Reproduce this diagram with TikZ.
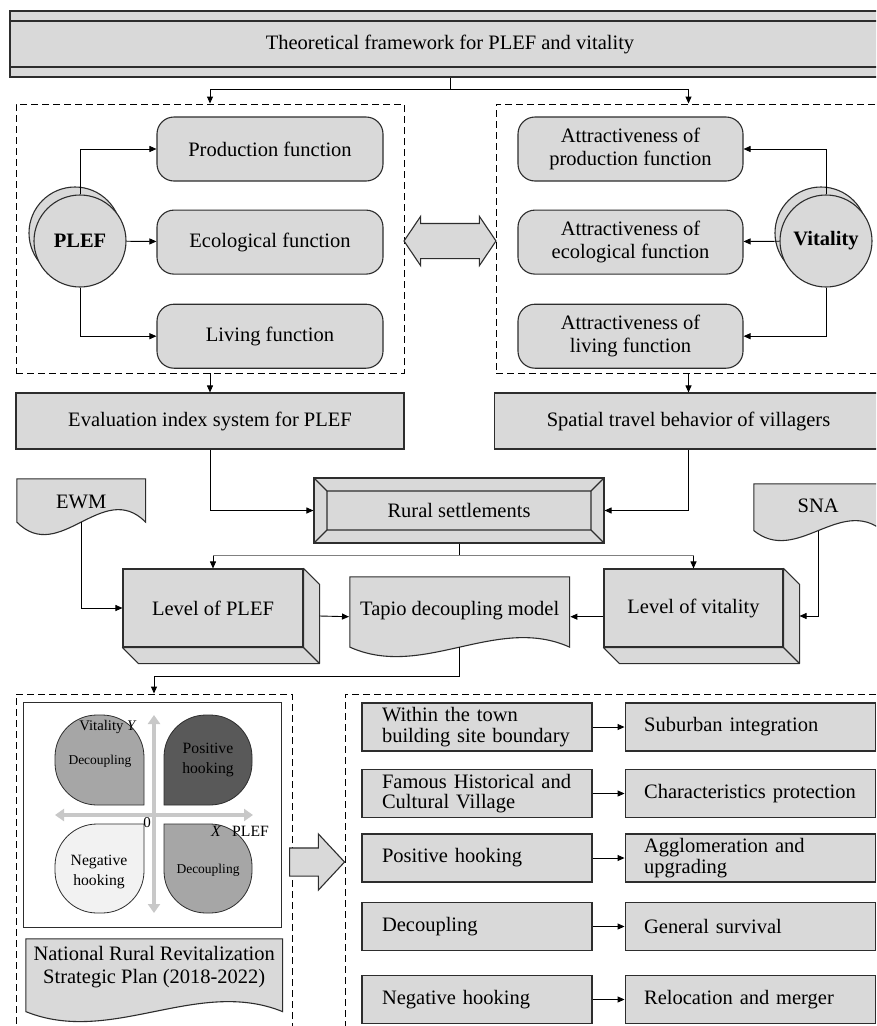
\documentclass[tikz,border=0pt]{standalone}
\usepackage{fontspec}
\setmainfont{Liberation Serif}
\usepackage{tikz}
\usetikzlibrary{positioning, arrows.meta, shapes.arrows, shadows, calc}
\definecolor{boxgray}{RGB}{217,217,217}
\definecolor{edgegray}{RGB}{45,45,45}
\definecolor{quadmid}{RGB}{166,166,166}
\definecolor{quaddark}{RGB}{89,89,89}
\definecolor{quadlight}{RGB}{242,242,242}
\definecolor{axisgray}{RGB}{200,200,200}
\tikzset{docwave/.store in=\docwave, docwave=10pt}

\begin{document}
\begin{tikzpicture}[
    x=1pt, y=-1pt,
    every node/.style={font=\fontsize{20.5}{23}\selectfont},
    graybox/.style={
        rectangle,
        draw=edgegray,
        line width=1.1pt,
        fill=boxgray,
        align=center,
        inner sep=0pt
    },
    titlebox/.style={
        graybox,
        minimum width=880pt,
        minimum height=66pt,
        path picture={
            \draw[edgegray, line width=1.1pt]
                ([yshift=-10pt]path picture bounding box.north west) -- ([yshift=-10pt]path picture bounding box.north east)
                ([yshift=10pt]path picture bounding box.south west) -- ([yshift=10pt]path picture bounding box.south east);
        }
    },
    funcbox/.style={
        graybox,
        rounded corners=17pt,
        minimum width=226pt,
        minimum height=64pt
    },
    plainbox/.style={
        graybox,
        minimum width=388pt,
        minimum height=56pt
    },
    bevelbox/.style={
        graybox,
        minimum width=290pt,
        minimum height=65pt,
        path picture={
            \draw[edgegray, line width=1.1pt]
                ([shift={(13pt,-13pt)}]path picture bounding box.north west) rectangle ([shift={(-13pt,13pt)}]path picture bounding box.south east)
                (path picture bounding box.north west) -- ++(13pt,-13pt)
                (path picture bounding box.north east) -- ++(-13pt,-13pt)
                (path picture bounding box.south east) -- ++(-13pt,13pt)
                (path picture bounding box.south west) -- ++(13pt,13pt);
        }
    },
    cuboid/.style={
        graybox,
        minimum width=180pt,
        minimum height=78pt,
        append after command={
            \pgfextra{
                \draw[draw=edgegray, fill=boxgray, line width=1.1pt, line join=round]
                    (\tikzlastnode.north east) -- ++(16pt,-16pt)
                    -- ([shift={(16pt,-16pt)}]\tikzlastnode.south east)
                    -- ([shift={(16pt,-16pt)}]\tikzlastnode.south west)
                    -- (\tikzlastnode.south west) -- (\tikzlastnode.south east) -- cycle;
                \draw[edgegray, line width=1.1pt] (\tikzlastnode.south east) -- ++(16pt,-16pt);
            }
        }
    },
    docbox/.style={
        rectangle,
        fill=white,
        inner sep=0pt,
        anchor=north west,
        align=center,
        path picture={
            \path[draw=edgegray, fill=boxgray, line width=1.1pt]
                let \p1=(path picture bounding box.south west),
                    \p2=(path picture bounding box.north east) in
                (\x1+.6pt,\y2-.6pt) -- (\x2-.6pt,\y2-.6pt) -- (\x2-.6pt,\y1+\docwave+.6pt)
                .. controls ({\x2-(\x2-\x1)/3},{\y1+4.46*\docwave+.6pt})
                       and ({\x1+(\x2-\x1)/3},{\y1-2.46*\docwave+.6pt}) ..
                (\x1+.6pt,\y1+\docwave+.6pt) -- cycle;
        }
    },
    hub/.style={
        circle,
        draw=edgegray,
        line width=1.1pt,
        fill=boxgray,
        minimum size=92pt,
        inner sep=0pt,
        font=\fontsize{20.5}{23}\selectfont\bfseries,
        copy shadow={shadow xshift=-5pt, shadow yshift=8pt, draw=edgegray, fill=boxgray, line width=1.1pt}
    },
    linkarrow/.style={
        double arrow,
        draw=edgegray,
        fill=boxgray,
        line width=1.1pt,
        minimum height=92pt,
        inner xsep=0pt,
        inner ysep=17pt,
        double arrow head extend=7pt,
        double arrow tip angle=112
    },
    bigarrow/.style={
        single arrow,
        draw=edgegray,
        fill=boxgray,
        line width=1.1pt,
        minimum height=55pt,
        inner xsep=0pt,
        inner ysep=13.5pt,
        single arrow head extend=14pt,
        single arrow tip angle=94
    },
    dashframe/.style={
        rectangle,
        draw=black,
        line width=0.9pt,
        dash pattern=on 7pt off 4pt,
        inner sep=0pt
    },
    rowbox/.style={
        graybox,
        align=left,
        font=\fontsize{20.5}{20.5}\selectfont,
        minimum height=48pt,
        text width=190pt,
        inner xsep=20pt
    },
    resultbox/.style={
        rowbox,
        text width=212pt,
        inner xsep=19pt
    },
    quadrant/.style={draw=edgegray, line width=0.8pt},
    quadtext/.style={font=\fontsize{15.7}{20.5}\selectfont, align=center},
    smalltext/.style={font=\fontsize{13.5}{15}\selectfont},
    axis/.style={{Triangle[length=9pt,width=12pt]}-{Triangle[length=9pt,width=12pt]}, line width=3.5pt, draw=axisgray},
    arrow/.style={-{Triangle[length=7pt,width=6pt]}, line width=0.9pt, draw=black}
]
\useasboundingbox (0,0) rectangle (876,1026);
\fill[white] (0,0) rectangle (876,1026);
\clip (0,0) rectangle (876,1026);

% dashed groups
\node[dashframe, minimum width=388pt, minimum height=269pt] (plefframe) at (210,238.5) {};
\node[dashframe, minimum width=385pt, minimum height=269pt] (vitframe) at (688.5,238.5) {};
\node[dashframe, minimum width=276pt, minimum height=346pt] (planframe) at (154,867) {};
\node[dashframe, minimum width=560pt, minimum height=346pt] (typeframe) at (625,867) {};

\node[titlebox] (theory) at (450,44) {Theoretical framework for PLEF and vitality};

% PLEF side
\node[funcbox] (prod) at (270,149) {Production function};
\node[funcbox, below=28pt of prod] (eco) {Ecological function};
\node[funcbox, below=29pt of eco] (living) {Living function};
\node[hub] (plef) at (80,241) {PLEF};

% vitality side
\node[funcbox, minimum width=225pt] (attprod) at (630.5,149) {Attractiveness of\\production function};
\node[funcbox, minimum width=225pt, below=28pt of attprod] (atteco) {Attractiveness of\\ecological function};
\node[funcbox, minimum width=225pt, below=29pt of atteco] (attliv) {Attractiveness of\\living function};
\node[hub] (vit) at (826,241) {Vitality};

\node[linkarrow] (link) at (450,241) {};

\node[plainbox] (evalsys) at (210,421) {Evaluation index system for PLEF};
\node[plainbox] (travel) at (688.5,421) {Spatial travel behavior of villagers};
\node[bevelbox] (rural) at (459,510.5) {Rural settlements};

\node[docbox, docwave=12.5pt, minimum width=130pt, text height=30pt, text depth=27pt] (ewm) at (16,478) {EWM};
\node[docbox, docwave=10pt, minimum width=130pt, text height=29pt, text depth=29pt] (sna) at (753,483) {SNA};

\node[cuboid] (plevel) at (213,608) {Level of PLEF};
\node[cuboid, minimum width=179pt] (vlevel) at (693.5,608) {Level of vitality};
\node[docbox, docwave=9.5pt, minimum width=221pt, text height=39pt, text depth=42pt] (tapio) at (349,576) {Tapio decoupling model};

% decoupling states
\node[rectangle, draw=edgegray, line width=1pt, minimum width=258pt, minimum height=225pt, inner sep=0pt] (quadbox) at (152,814.5) {};
\draw[quadrant, fill=quadmid] (144,805) -- (97,805) arc[start angle=270, end angle=180, radius=42pt]
    -- (55,757) arc[start angle=180, end angle=90, radius=42pt]
    -- (102,715) arc[start angle=90, end angle=0, radius=42pt] -- cycle;
\draw[quadrant, fill=quaddark] (164,805) -- (164,757) arc[start angle=180, end angle=90, radius=42pt]
    -- (210,715) arc[start angle=90, end angle=0, radius=42pt]
    -- (252,763) arc[start angle=0, end angle=-90, radius=42pt] -- cycle;
\draw[quadrant, fill=quadlight] (144,824) -- (144,871) arc[start angle=0, end angle=-90, radius=42pt]
    -- (97,913) arc[start angle=270, end angle=180, radius=42pt]
    -- (55,866) arc[start angle=180, end angle=90, radius=42pt] -- cycle;
\draw[quadrant, fill=quadmid] (164,824) -- (210,824) arc[start angle=90, end angle=0, radius=42pt]
    -- (252,871) arc[start angle=0, end angle=-90, radius=42pt]
    -- (206,913) arc[start angle=270, end angle=180, radius=42pt] -- cycle;
\draw[axis] (55,815) -- (253,815);
\draw[axis] (154,715) -- (154,913);
\node[smalltext] (tlq) at (100,761) {Decoupling};
\node[quadtext] (trq) at (208,760) {Positive\\hooking};
\node[quadtext] (blq) at (99,872) {Negative\\hooking};
\node[smalltext] (brq) at (208,870) {Decoupling};
\node[font=\fontsize{14.7}{16}\selectfont] (ylabel) at (108,727) {Vitality \textit{Y}};
\node[font=\fontsize{15}{16}\selectfont] (origin) at (147,823) {0};
\node[font=\fontsize{15.7}{17}\selectfont] (xlabel) at (240,831) {\textit{X}\hspace{11pt}PLEF};

\node[docbox, docwave=10pt, minimum width=258pt, text height=45pt, text depth=39pt] (natplan) at (25,938) {National Rural Revitalization\\Strategic Plan (2018-2022)};

\node[bigarrow] (toward) at (310.5,862) {};

% village types
\node[rowbox] (within) at (477,727) {Within the town\\building site boundary};
\node[rowbox] (famous) at (477,793.5) {Famous Historical and\\Cultural Village};
\node[rowbox] (poshook) at (477,858) {Positive hooking};
\node[rowbox] (decoup) at (477,926.5) {Decoupling};
\node[rowbox] (neghook) at (477,999.5) {Negative hooking};
\node[resultbox, right=32pt of within] (suburb) {Suburban integration};
\node[resultbox, right=32pt of famous] (charact) {Characteristics protection};
\node[resultbox, right=32pt of poshook] (agglom) {Agglomeration and\\upgrading};
\node[resultbox, right=32pt of decoup] (survive) {General survival};
\node[resultbox, right=32pt of neghook] (relocate) {Relocation and merger};

% connectors
\draw[line width=0.9pt] (theory.south) -- ++(0,12) coordinate (fork);
\draw[arrow] (fork) -| (plefframe.north);
\draw[arrow] (fork) -| (vitframe.north);

\draw[arrow] (plef.north) |- (prod.west);
\draw[arrow] (plef) -- (eco);
\draw[arrow] (plef.south) |- (living.west);
\draw[arrow] (vit.north) |- (attprod.east);
\draw[arrow] (vit) -- (atteco);
\draw[arrow] (vit.south) |- (attliv.east);

\draw[arrow] (plefframe.south) -- (evalsys.north);
\draw[arrow] (vitframe.south) -- (travel.north);
\draw[arrow] (evalsys.south) |- (rural.west);
\draw[arrow] (travel.south) |- (rural.east);

\draw[line width=0.9pt] (rural.south) -- ++(0,12) coordinate (split);
\draw[gray, line width=0.6pt] (plevel.north |- split) -- (vlevel.north |- split);
\draw[arrow] (plevel.north |- split) -- (plevel.north);
\draw[arrow] (vlevel.north |- split) -- (vlevel.north);

\draw[arrow] ([yshift=13pt]ewm.south) |- (plevel.west);
\draw[arrow] ([yshift=10.5pt]sna.south) |- ([shift={(16pt,-8pt)}]vlevel.east);
\draw[arrow] ([shift={(16pt,-8pt)}]plevel.east) -- (tapio.west);
\draw[arrow] (vlevel.west |- tapio.east) -- (tapio.east);
\draw[arrow] ([yshift=10pt]tapio.south) -- ([yshift=-19pt]tapio.south) -| (planframe.north);

\draw[arrow] (within) -- (suburb);
\draw[arrow] (famous) -- (charact);
\draw[arrow] (poshook) -- (agglom);
\draw[arrow] (decoup) -- (survive);
\draw[arrow] (neghook) -- (relocate);

\end{tikzpicture}
\end{document}
